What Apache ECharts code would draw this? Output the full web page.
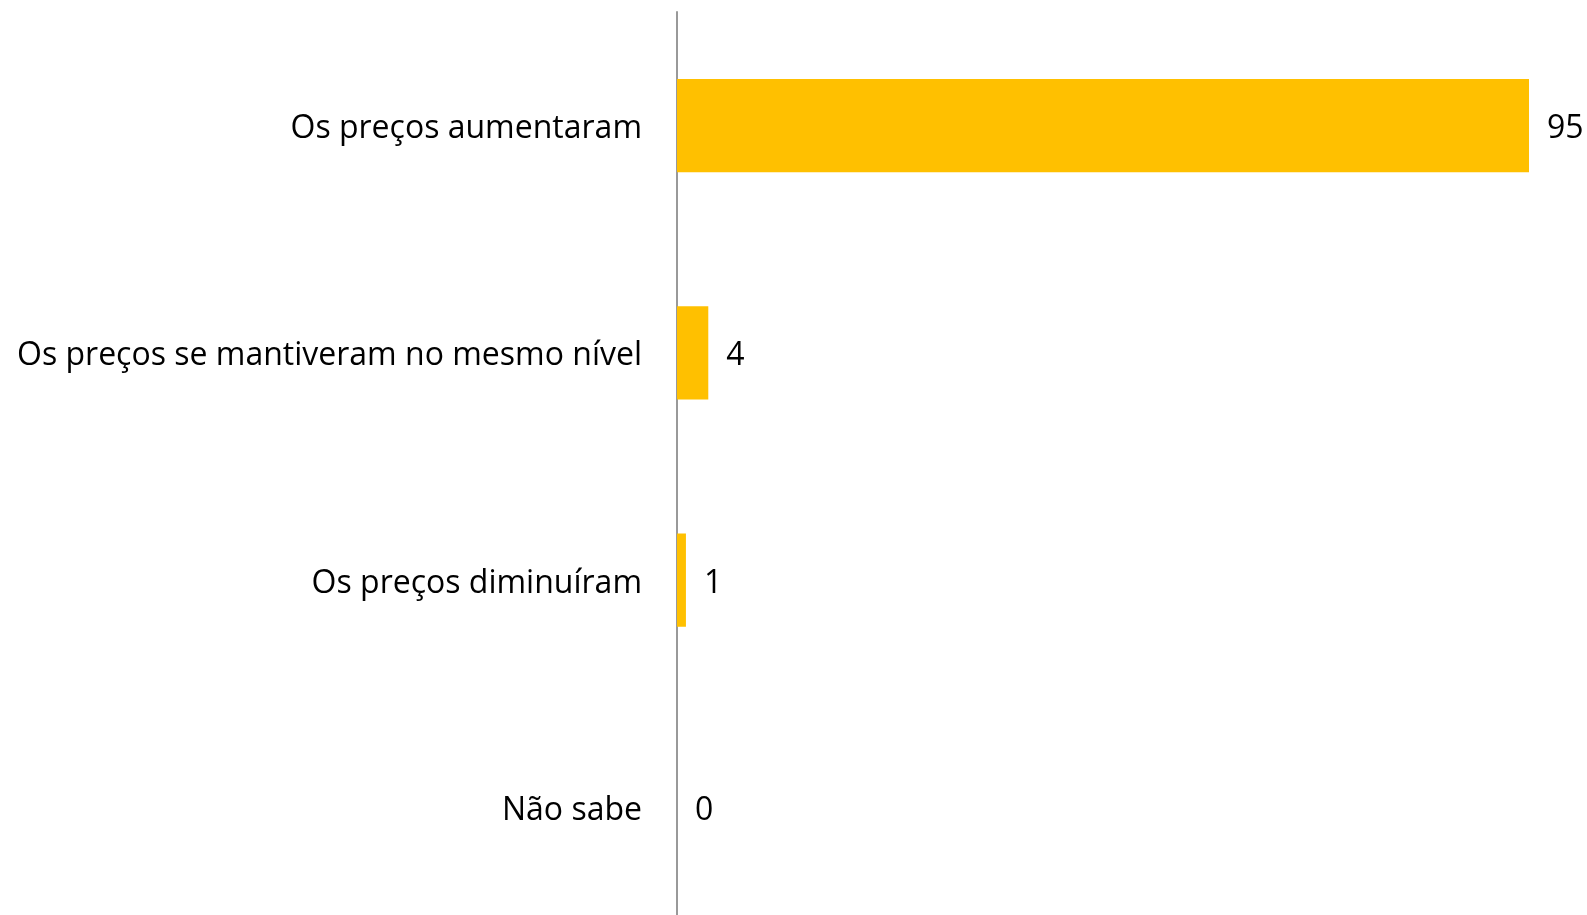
<!DOCTYPE html>
<html>
<head>
<meta charset="utf-8">
<script src="https://cdn.jsdelivr.net/npm/echarts@6/dist/echarts.min.js"></script>
<style>
  html, body { margin: 0; padding: 0; background: #fff; }
  #chart { width: 1587px; height: 915px; }
</style>
</head>
<body>
<div id="chart"></div>
<script>
// Categories, top to bottom
const categories = [
    'Os preços aumentaram',
    'Os preços se mantiveram no mesmo nível',
    'Os preços diminuíram',
    'Não sabe'
];
// Values (labels shown rounded)
const values = [95.3, 3.5, 1.0, 0];

const chart = echarts.init(document.getElementById('chart'));

// text sits a little below the bar centre in the original
const txt = { fontSize: 32, color: '#000', fontFamily: 'Open Sans', padding: [7, 0, 0, 0] };

const option = {
    animation: false,
    textStyle: { fontFamily: 'Open Sans' },
    grid: {
        left: 677,
        right: 58,
        top: 12,
        height: 909,
        outerBoundsMode: 'none',
        containLabel: false,
    },
    xAxis: {
        type: 'value',
        min: 0,
        max: values[0],
        show: false,
    },
    yAxis: {
        type: 'category',
        data: categories,
        inverse: true,
        axisLine: {
            lineStyle: { color: '#999999', width: 2 },
        },
        axisTick: { show: false },
        axisLabel: {
            color: '#000',
            fontSize: 32,
            margin: 35,
            formatter: v => '{t|' + v + '}',
            rich: { t: txt },
        },
    },
    series: [
        {
            type: 'bar',
            data: values,
            barCategoryGap: '59%',
            itemStyle: { color: '#FFC000' },
            label: {
                show: true,
                position: 'right',
                distance: 18,
                color: '#000',
                fontSize: 32,
                formatter: p => '{t|' + Math.round(p.value) + '}',
                rich: { t: txt },
            },
        },
    ],
};

chart.setOption(option);
</script>
</body>
</html>
